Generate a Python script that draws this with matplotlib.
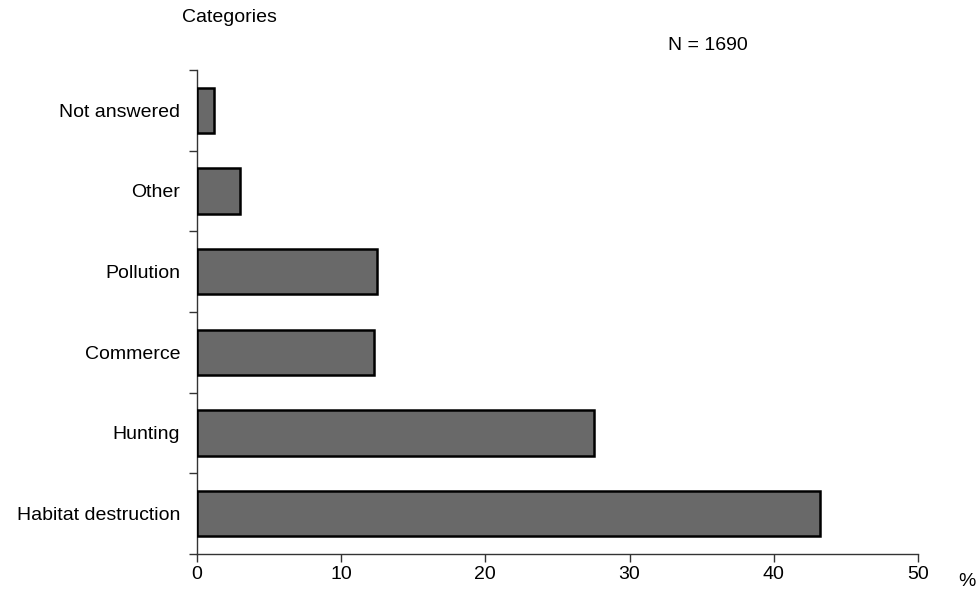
import matplotlib
matplotlib.use("Agg")
import matplotlib.pyplot as plt

categories = ["Habitat destruction", "Hunting", "Commerce", "Pollution", "Other", "Not answered"]
percent = [43.2, 27.5, 12.3, 12.5, 3.0, 1.2]
x_ticks = [0, 10, 20, 30, 40, 50]

plt.rcParams['font.family'] = ['Liberation Sans', 'DejaVu Sans']
FS = 14

fig = plt.figure(figsize=(9.77, 5.92), dpi=100)
ax = fig.add_axes([0.2016, 0.0642, 0.9396 - 0.2016, 0.8818 - 0.0642])

ypos = list(range(len(categories)))
ax.barh(ypos, percent, height=0.56, color="#696969", edgecolor="black", linewidth=1.8, zorder=3)

ax.set_xlim(0, 50)
ax.set_ylim(-0.5, len(categories) - 0.5)
ax.set_xticks(x_ticks)
ax.set_xticklabels([str(t) for t in x_ticks], fontsize=FS)

# category labels at bar centres (no tick marks), tick marks at boundaries
ax.set_yticks(ypos)
ax.set_yticklabels(categories, fontsize=FS)
ax.tick_params(axis='y', which='major', length=0, pad=12)
ax.set_yticks([i - 0.5 for i in range(len(categories) + 1)], minor=True)
ax.tick_params(axis='y', which='minor', length=6, width=1, color='#333333', direction='out')
ax.tick_params(axis='x', length=6, width=1, color='#333333', direction='out', pad=3)

for s in ['top', 'right']:
    ax.spines[s].set_visible(False)
for s in ['left', 'bottom']:
    ax.spines[s].set_color('#333333')
    ax.spines[s].set_linewidth(1.0)

fig.text(182 / 977, 1 - 17 / 592, "Categories", fontsize=FS, ha='left', va='center')
fig.text(668 / 977, 1 - 45 / 592, "N = 1690", fontsize=FS, ha='left', va='center')
fig.text(967 / 977, 1 - 582 / 592, "%", fontsize=FS, ha='center', va='center')

fig.savefig("out.png", dpi=100)
